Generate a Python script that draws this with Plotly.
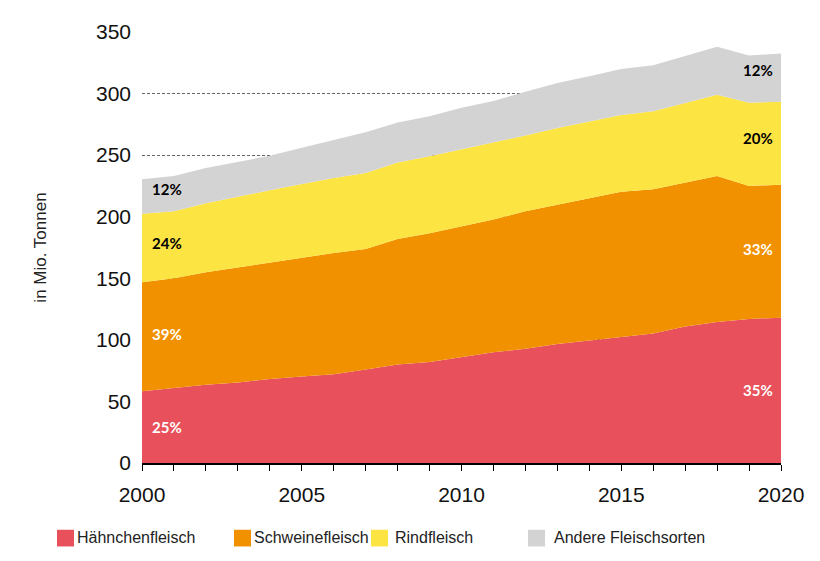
import plotly.graph_objects as go

# Fleischproduktion weltweit, in Mio. Tonnen
years = list(range(2000, 2021))
haehnchen = [58.2, 60.9, 63.5, 65.4, 68.3, 70.2, 72.0, 76.0, 80.0, 82.0, 86.0,
             90.0, 92.7, 96.7, 99.4, 102.0, 105.2, 110.8, 114.5, 117.0, 118.0]
schwein = [88.5, 89.1, 91.5, 93.6, 94.1, 96.3, 98.5, 97.8, 102.0, 104.5, 106.0,
           107.7, 111.8, 113.0, 115.6, 118.3, 117.2, 117.2, 118.5, 108.0, 108.0]
rind = [55.8, 54.5, 56.0, 57.5, 59.1, 60.0, 61.0, 61.7, 62.0, 62.5, 62.5,
        62.3, 61.5, 62.3, 62.5, 62.2, 63.3, 64.3, 66.0, 67.5, 67.4]
andere = [27.9, 28.5, 28.5, 28.0, 28.0, 29.5, 31.0, 33.0, 32.5, 32.5, 34.0,
          34.0, 35.5, 36.5, 36.5, 37.5, 37.3, 38.2, 39.0, 38.5, 39.1]

names = ["Hähnchenfleisch", "Schweinefleisch", "Rindfleisch", "Andere Fleischsorten"]
colors = ["#E8505B", "#F29100", "#FCE443", "#D3D3D3"]
share_2000 = ["25%", "39%", "24%", "12%"]
share_2020 = ["35%", "33%", "20%", "12%"]
label_colors = ["white", "white", "black", "black"]

series = [haehnchen, schwein, rind, andere]

# Plotbereich in Pixeln (Figur-Koordinaten)
L, R, T, B = 134, 47, 16, 106
W, H = 820, 561
pw, ph = W - L - R, H - T - B


def px_x(px):
    return (px - L) / pw


def px_y(py):
    return (H - B - py) / ph


fig = go.Figure()
for name, vals, col in zip(names, series, colors):
    fig.add_trace(go.Scatter(
        x=years, y=vals, name=name, mode="lines",
        stackgroup="one", fillcolor=col,
        line=dict(width=0, color=col),
        showlegend=False,
    ))

# Prozent-Beschriftungen jeweils etwa in der Mitte des Bandes
annotations = []
for idx, (col_i, first_i, last_i) in enumerate(zip(label_colors, share_2000, share_2020)):
    for pos, txt, anchor, shift in [(0, first_i, "left", 8), (-1, last_i, "right", -6)]:
        below = sum(s[pos] for s in series[:idx])
        mid = below + series[idx][pos] / 2 + 2 * idx
        annotations.append(dict(
            x=years[pos], y=mid, text="<b>" + txt + "</b>", showarrow=False,
            xanchor=anchor, xshift=shift,
            font=dict(family="Lato, Liberation Sans", size=15, color=col_i),
        ))

# Legende von Hand: Quadrat + Text
legend_box_x = [49, 226, 363, 520]
legend_text_x = [67, 244, 385, 544]
shapes = []
for name, col, bx, tx in zip(names, colors, legend_box_x, legend_text_x):
    shapes.append(dict(
        type="rect", xref="paper", yref="paper",
        x0=px_x(bx), x1=px_x(bx + 17), y0=px_y(523), y1=px_y(540),
        fillcolor=col, line=dict(width=0),
    ))
    annotations.append(dict(
        xref="paper", yref="paper", x=px_x(tx), y=px_y(531),
        xanchor="left", yanchor="middle", showarrow=False, text=name,
        font=dict(family="Liberation Sans, Arial", size=16, color="#222"),
    ))

fig.update_layout(
    width=W, height=H,
    margin=dict(l=L, r=R, t=T, b=B),
    plot_bgcolor="white", paper_bgcolor="white",
    font=dict(family="Liberation Sans, Arial", color="#111"),
    annotations=annotations,
    shapes=shapes,
    showlegend=False,
    xaxis=dict(
        range=[2000, 2020], tickmode="linear", tick0=2000, dtick=5,
        showgrid=False, zeroline=False,
        showline=True, linecolor="black", linewidth=1.5,
        ticks="outside", ticklen=6, tickcolor="black",
        ticklabelstandoff=6,
        minor=dict(dtick=1, ticks="outside", ticklen=6, tickcolor="black"),
        tickfont=dict(family="Liberation Sans, Arial", size=21, color="#111"),
    ),
    yaxis=dict(
        range=[0, 350], tickmode="linear", tick0=0, dtick=50,
        showgrid=True, gridcolor="#666", griddash="3px,2px", gridwidth=1,
        zeroline=False, showline=False, ticks="",
        ticklabelstandoff=10,
        tickfont=dict(family="Liberation Sans, Arial", size=21, color="#111"),
        title=dict(text="in Mio. Tonnen", font=dict(size=17, color="#222"), standoff=45),
    ),
)

fig.write_html("out.html")
